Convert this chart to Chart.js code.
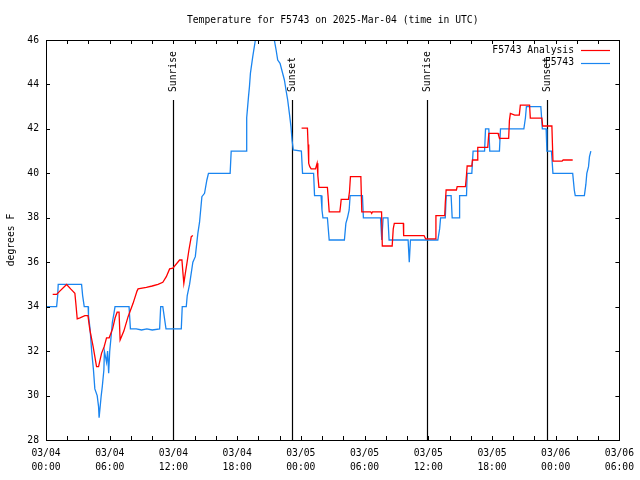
<!DOCTYPE html>
<html>
<head>
<meta charset="utf-8">
<script src="https://cdn.jsdelivr.net/npm/chart.js@4.4.1/dist/chart.umd.min.js"></script>
<style>
html,body{margin:0;padding:0;background:#fff;}
#wrap{width:640px;height:480px;}
</style>
</head>
<body>
<div id="wrap"><canvas id="c" width="640" height="480"></canvas></div>
<script>
// ---- data (hours since 03/04 00:00 UTC, degrees F) ----
const titleText = 'Temperature for F5743 on 2025-Mar-04 (time in UTC)';
const yAxisTitle = 'degrees F';
const seriesNames = ['F5743 Analysis', 'F5743'];

const hoursRed = [0.63,1.0,1.3,1.94,2.32,2.72,2.82,2.94,3.2,3.66,3.95,4.13,4.44,4.76,4.95,5.23,5.48,5.7,5.95,6.27,6.51,6.7,6.88,6.98,7.33,7.73,8.2,8.57,8.67,9.45,10.0,10.55,11.0,11.33,11.64,11.95,12.58,12.8,12.9,12.98,13.12,13.27,13.46,13.68,13.83,
  18.0,
  24.07,24.62,24.68,24.74,24.84,24.97,25.38,25.53,25.6,25.7,26.5,26.56,26.67,27.67,27.73,27.8,28.48,28.58,28.67,29.65,29.74,30.58,30.67,30.75,31.6,31.67,32.6,32.7,32.8,33.65,33.68,35.6,35.75,36.7,36.72,37.55,37.6,37.68,38.65,38.72,39.5,39.6,39.66,40.1,40.16,40.6,40.66,41.6,41.7,42.57,42.64,42.73,43.57,43.64,43.73,44.14,44.57,44.67,45.54,45.61,46.7,46.77,47.64,47.74,48.6,48.7,49.6];
const tempRed = [34.55,34.55,34.7,35.0,34.8,34.6,34.1,33.45,33.5,33.6,33.6,32.95,32.2,31.3,31.3,31.9,32.2,32.6,32.6,33.0,33.5,33.75,33.75,32.5,32.9,33.55,34.15,34.7,34.8,34.87,34.93,35.0,35.1,35.35,35.7,35.73,36.1,36.1,35.5,35.05,35.5,35.95,36.55,37.15,37.2,
  null,
  42.03,42.03,41.3,40.45,40.3,40.2,40.2,40.45,39.9,39.37,39.37,39.0,38.27,38.27,38.5,38.83,38.83,39.17,39.85,39.85,38.27,38.27,38.2,38.27,38.27,36.73,36.73,37.5,37.75,37.75,37.2,37.2,37.05,37.05,38.1,38.1,38.65,39.25,39.25,39.4,39.4,39.92,40.33,40.33,40.6,40.6,41.17,41.17,41.8,41.8,41.68,41.57,41.57,42.37,42.7,42.62,42.62,43.07,43.07,42.48,42.48,42.13,42.13,40.55,40.55,40.6,40.6];

const hoursBlue = [0,1.0,1.1,1.15,3.35,3.45,3.6,3.97,4.0,4.15,4.3,4.47,4.6,4.82,4.95,5.0,5.1,5.2,5.3,5.45,5.5,5.7,5.8,5.9,6.0,6.1,6.25,6.4,6.5,7.82,7.95,8.5,9.0,9.5,10.0,10.7,10.8,11.0,11.3,12.74,12.83,13.21,13.3,13.52,13.83,14.06,14.3,14.46,14.68,14.93,15.15,15.3,17.34,17.44,18.85,18.9,19.07,19.16,19.25,19.47,19.72,20.6,21.5,21.67,21.82,22.04,22.45,22.6,22.76,22.92,23.07,23.17,23.29,24.05,24.16,25.2,25.29,25.9,25.99,26.08,26.5,26.67,28.1,28.24,28.39,28.55,28.64,29.8,29.89,31.5,31.62,31.75,31.84,32.2,32.31,34.1,34.21,34.32,36.9,37.07,37.16,37.6,37.69,38.15,38.25,38.9,38.95,39.6,39.66,40.1,40.22,41.3,41.39,41.7,41.79,42.7,42.8,45.0,45.15,45.24,46.6,46.74,47.1,47.17,47.6,47.74,49.6,49.75,49.84,50.7,50.84,50.93,51.09,51.18,51.31];
const tempBlue = [34,34,34.5,35,35,34.5,34,34,33.6,33,32,31.15,30.3,30,29.5,29,29.5,30,30.4,31.15,32,31.5,32,31,32,32.5,33.3,33.7,34,34,33,33,32.95,33,32.95,33,34,34,33,33,34,34,34.5,35,36,36.25,37.3,37.8,38.95,39.1,39.7,40,40,41,41,42.5,43.45,43.9,44.5,45.25,46,47.2,46,45.55,45.1,44.95,44.2,43.75,43.3,42.7,42.1,41.5,41.05,41,40,40,39,39,38.35,38,38,37,37,37.75,38,38.35,39,39,38,38,37,38,38,38,37,37,36,37,37,37.5,38,38,39,39,38,38,39,39,40,40,41,41,42,42,41,41,42,42,42.5,43,43,42,42,41,41,40,40,39.25,39,39,39.5,40,40.3,40.75,41];

const tickDates = ['03/04','03/04','03/04','03/04','03/05','03/05','03/05','03/05','03/06','03/06'];
const tickTimes = ['00:00','06:00','12:00','18:00','00:00','06:00','12:00','18:00','00:00','06:00'];
const sunLabels = ['Sunrise','Sunset','Sunrise','Sunset'];
const sunHours = [11.97, 23.13, 35.92, 47.17];

const FONT = 'DejaVu Sans Mono';
const FS = 9.7;
const RED = '#ff0000';
const BLUE = '#1a85f0';

function pts(xs, ys){ return xs.map((x,i)=>({x:x, y:ys[i]})); }

const framePlugin = {
  id: 'frame',
  beforeDatasetsDraw(chart){
    const ctx = chart.ctx, a = chart.chartArea, xs = chart.scales.x;
    ctx.save();
    ctx.strokeStyle = '#000';
    ctx.lineWidth = 1.2;
    ctx.fillStyle = '#000';
    ctx.font = FS + 'px "' + FONT + '"';
    sunHours.forEach((h,i)=>{
      const px = Math.round(xs.getPixelForValue(h)) + 0.5;
      const topY = a.bottom - 0.85*(a.bottom - a.top);
      ctx.beginPath(); ctx.moveTo(px, a.bottom); ctx.lineTo(px, topY); ctx.stroke();
      ctx.save();
      ctx.translate(px, topY - 8);
      ctx.rotate(-Math.PI/2);
      ctx.textAlign = 'left'; ctx.textBaseline = 'middle';
      ctx.fillText(sunLabels[i], 0, 0);
      ctx.restore();
    });
    ctx.restore();
  },
  afterDatasetsDraw(chart){
    const ctx = chart.ctx, a = chart.chartArea, xs = chart.scales.x, ys = chart.scales.y;
    ctx.save();
    ctx.strokeStyle = '#000';
    ctx.lineWidth = 1;
    ctx.strokeRect(Math.round(a.left)+0.5, Math.round(a.top)+0.5, Math.round(a.right-a.left), Math.round(a.bottom-a.top));
    ctx.beginPath();
    xs.ticks.forEach(t=>{
      const px = Math.round(xs.getPixelForValue(t.value)) + 0.5;
      ctx.moveTo(px, a.bottom); ctx.lineTo(px, a.bottom-4);
      ctx.moveTo(px, a.top); ctx.lineTo(px, a.top+4);
    });
    ys.ticks.forEach(t=>{
      const py = Math.round(ys.getPixelForValue(t.value)) + 0.5;
      ctx.moveTo(a.left, py); ctx.lineTo(a.left+4, py);
      ctx.moveTo(a.right, py); ctx.lineTo(a.right-4, py);
    });
    ctx.stroke();
    // legend
    ctx.font = FS + 'px "' + FONT + '"';
    ctx.fillStyle = '#000';
    ctx.textAlign = 'right'; ctx.textBaseline = 'middle';
    const cols = [RED, BLUE];
    seriesNames.forEach((n,i)=>{
      const y = 50 + i*12.5;
      ctx.fillText(n, 574, y);
      ctx.strokeStyle = cols[i]; ctx.lineWidth = 1.2;
      ctx.beginPath(); ctx.moveTo(581, Math.round(y)+0.5); ctx.lineTo(610, Math.round(y)+0.5); ctx.stroke();
    });
    // title
    ctx.textAlign = 'center';
    ctx.fillText(titleText, (a.left + a.right)/2, 20);
    // y title
    ctx.save();
    ctx.translate(11, (a.top + a.bottom)/2);
    ctx.rotate(-Math.PI/2);
    ctx.fillText(yAxisTitle, 0, 0);
    ctx.restore();
    ctx.restore();
  }
};

new Chart(document.getElementById('c'), {
  type: 'line',
  data: {
    datasets: [
      { label: seriesNames[0], data: pts(hoursRed, tempRed), borderColor: RED, borderWidth: 1.3, pointRadius: 0, spanGaps: false, tension: 0, fill: false },
      { label: seriesNames[1], data: pts(hoursBlue, tempBlue), borderColor: BLUE, borderWidth: 1.3, pointRadius: 0, tension: 0, fill: false }
    ]
  },
  options: {
    responsive: false,
    animation: false,
    devicePixelRatio: 1,
    layout: { padding: { left: 0, right: 19, top: 40, bottom: 0 } },
    plugins: { legend: { display: false }, title: { display: false }, tooltip: { enabled: false } },
    scales: {
      x: {
        type: 'linear', min: 0, max: 54,
        grid: { display: false, drawTicks: false },
        border: { display: false },
        afterFit: (s) => { s.height = 40; },
        ticks: {
          stepSize: 2, autoSkip: false, maxRotation: 0, padding: 6,
          color: '#000', font: { family: FONT, size: FS, lineHeight: 1.45 },
          callback: (v) => { if (v % 6 !== 0) return ''; const i = v/6; return [tickDates[i], tickTimes[i]]; }
        }
      },
      y: {
        min: 28, max: 46,
        grid: { display: false, drawTicks: false },
        border: { display: false },
        afterFit: (s) => { s.width = 46; },
        ticks: { stepSize: 2, padding: 7, color: '#000', font: { family: FONT, size: FS } }
      }
    }
  },
  plugins: [framePlugin]
});
</script>
</body>
</html>
